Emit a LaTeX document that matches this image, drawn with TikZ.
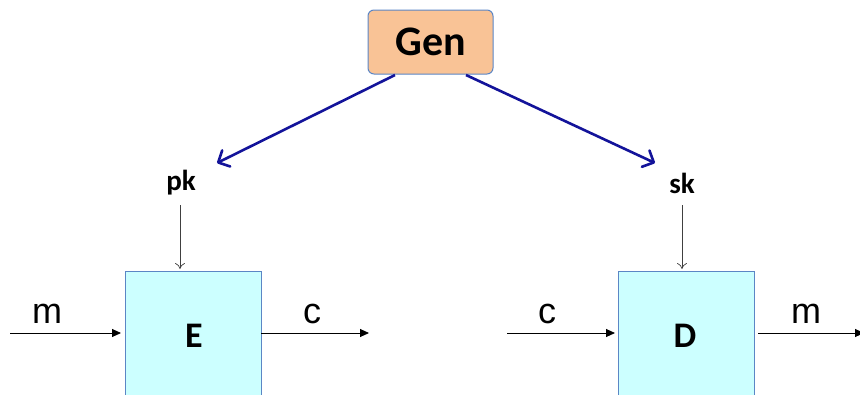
\documentclass[tikz,border=0pt]{standalone}
\usepackage{fontspec}
\setmainfont{Carlito}
\newfontfamily\varfont{Liberation Sans}
\usetikzlibrary{arrows.meta}
\definecolor{peach}{HTML}{F9C396}
\definecolor{boxedge}{HTML}{5B86C5}
\definecolor{cyanfill}{HTML}{CCFFFF}
\definecolor{navy}{HTML}{13139A}
\tikzset{
  genbox/.style={draw=boxedge, line width=1pt, fill=peach, rounded corners=6pt,
    minimum width=125pt, minimum height=64pt, inner sep=0pt,
    font=\fontsize{42}{44}\selectfont\bfseries},
  algbox/.style={draw=boxedge, line width=0.8pt, fill=cyanfill,
    minimum width=136pt, minimum height=130pt, inner sep=0pt, anchor=north west},
  algname/.style={font=\fontsize{36}{38}\selectfont\bfseries},
  keylabel/.style={font=\fontsize{29}{31}\selectfont\bfseries},
  varlabel/.style={font=\varfont\fontsize{36}{38}\selectfont},
  keyarrow/.style={draw=navy, line width=2.6pt,
    -{Straight Barb[length=9pt,width=18pt,round]}},
  feed/.style={draw=black!75, line width=0.7pt, -{To[length=6pt,width=10pt]}},
  flow/.style={draw=black, line width=0.9pt, -{Triangle[length=9pt,width=8pt]}}
}
\begin{document}
\begin{tikzpicture}[x=1pt,y=-1pt]
  \useasboundingbox (0,0) rectangle (860,394);
  \begin{scope}
    \clip (0,0) rectangle (860,394);
    % key generation
    \node[genbox] (gen) at (430.5,42) {Gen};
    % encryption and decryption boxes
    \node[algbox] (E) at (125,271) {};
    \node[algbox] (D) at (618,271) {};
  \end{scope}
  \node[algname] (Elab) at (194,336) {E};
  \node[algname] (Dlab) at (685,336) {D};
  % keys
  \node[keylabel] (pk) at (181,183) {pk};
  \node[keylabel] (sk) at (682,183) {sk};
  \coordinate (g1) at (395,75);
  \coordinate (g2) at (466,75);
  \coordinate (pkt) at (217,163);
  \coordinate (skt) at (655,163);
  \draw[keyarrow] (g1) -- (pkt);
  \draw[keyarrow] (g2) -- (skt);
  \coordinate (pkb) at (180,205);
  \coordinate (skb) at (682,205);
  \coordinate (Etop) at (180,269);
  \coordinate (Dtop) at (682,269);
  \draw[feed] (pkb) -- (Etop);
  \draw[feed] (skb) -- (Dtop);
  % message and ciphertext lines
  \coordinate (mE0) at (10,333);
  \coordinate (mE1) at (121,333);
  \coordinate (cE0) at (261,333);
  \coordinate (cE1) at (369,333);
  \coordinate (cD0) at (507,333);
  \coordinate (cD1) at (615,333);
  \coordinate (mD0) at (758,333);
  \coordinate (mD1) at (864,333);
  \draw[flow] (mE0) -- (mE1);
  \draw[flow] (cE0) -- (cE1);
  \draw[flow] (cD0) -- (cD1);
  \draw[flow] (mD0) -- (mD1);
  \node[varlabel] (m1) at (47,314) {m};
  \node[varlabel] (c1) at (312,314) {c};
  \node[varlabel] (c2) at (547,314) {c};
  \node[varlabel] (m2) at (806,314) {m};
\end{tikzpicture}
\end{document}
